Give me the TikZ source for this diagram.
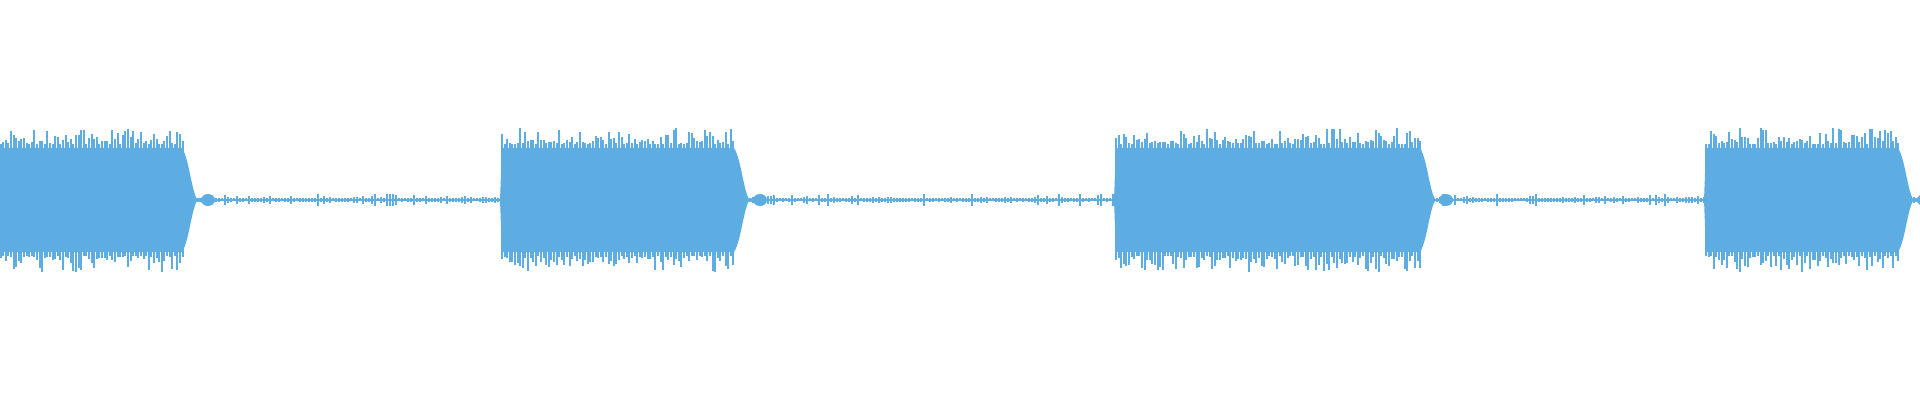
\documentclass[tikz,border=0pt]{standalone}
\definecolor{wavecol}{RGB}{93,173,226}
\tikzset{wave/.style={draw=wavecol,line width=0.6pt},
  core/.style={fill=wavecol,draw=none}}
% one loud section: from #1 to #2 (pixels)
\newcommand\wburst[2]{%
  \fill[core] (#1,200) -- (#1+2,148) -- (#2-4,148) .. controls (#2+4,160) and (#2+6,200) .. (#2+14,202)
     -- (#2+14,198) .. controls (#2+6,200) and (#2+4,240) .. (#2-4,252) -- (#1+2,252) -- cycle;
  % small bump after the sound
  \fill[core] (#2+22,200) ellipse (7 and 6);
  \pgfmathtruncatemacro\wn{(#2-#1-4)/2.6}
  \foreach \i in {0,...,\wn} {
    \pgfmathsetmacro\wx{#1+2+2.6*\i}
    \pgfmathsetmacro\wa{56+16*rnd^2}
    \pgfmathsetmacro\wb{56+16*rnd^2}
    \draw[wave] (\wx,200-\wb) -- (\wx,200+\wa);
  }
}
\begin{document}
\begin{tikzpicture}[x=0.01cm,y=0.01cm]
\useasboundingbox (0,0) rectangle (1920,400);
\pgfmathsetseed{11}
% base line and noise
\draw[wave] (0,200) -- (1920,200);
\foreach \x in {0,3,...,1920} {
  \pgfmathsetmacro\na{1.5+5*rnd^4}
  \draw[wave] (\x,200-\na) -- (\x,200+\na);
}
% the loud sections
\wburst{-4}{186}
\wburst{500}{738}
\wburst{1114}{1424}
\wburst{1704}{1902}
\end{tikzpicture}
\end{document}
